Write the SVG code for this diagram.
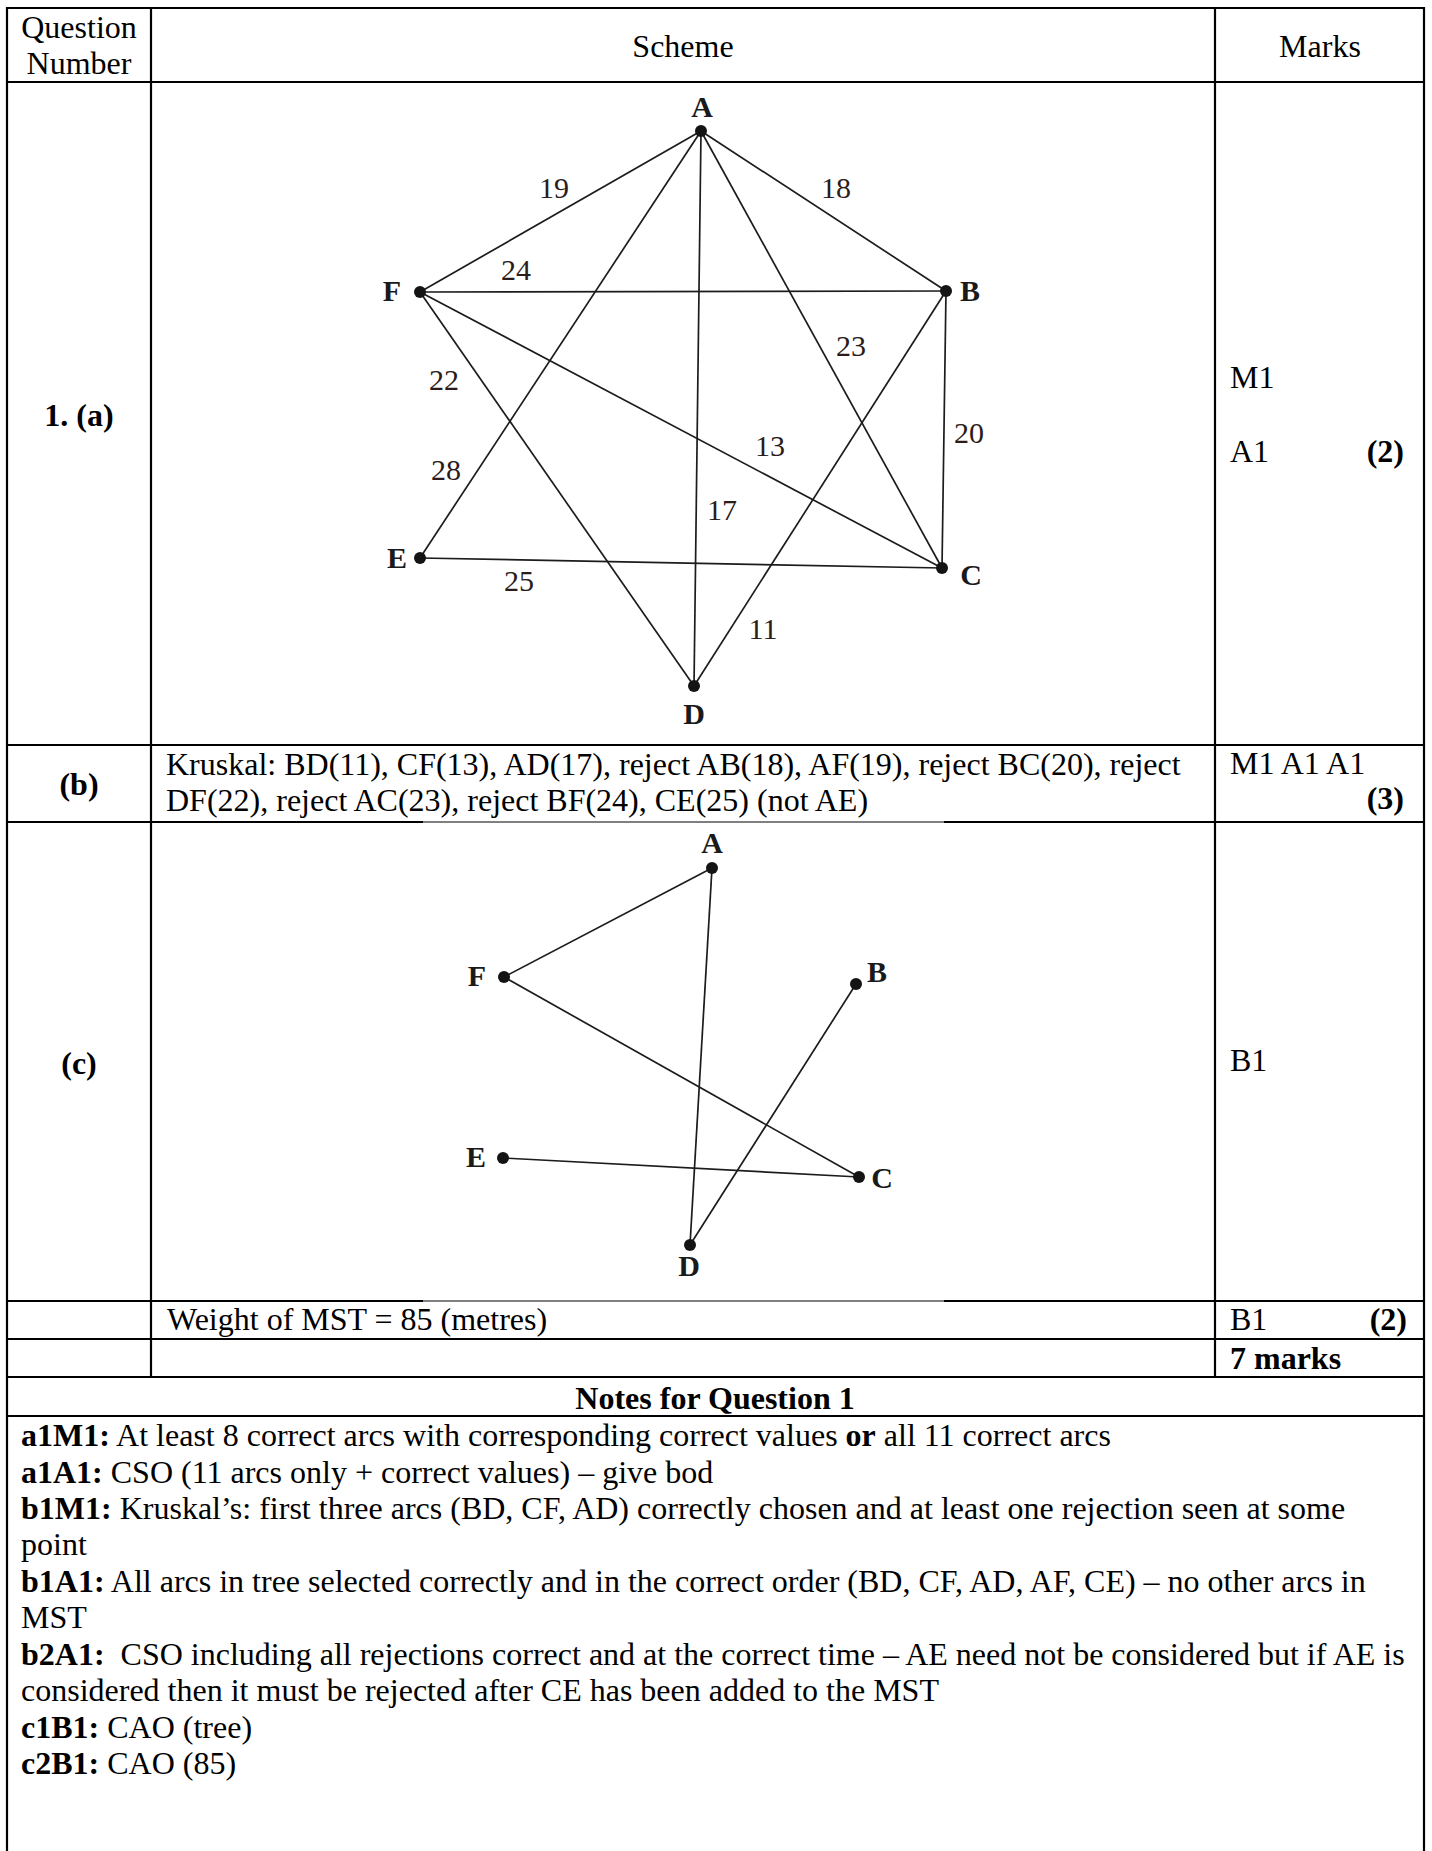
<svg xmlns="http://www.w3.org/2000/svg" width="1432" height="1851" viewBox="0 0 1432 1851">
<style>
text{font-family:"Liberation Serif","Times New Roman",serif;fill:#000}
.t{font-size:32px}
.b{font-weight:bold}
.m{text-anchor:middle}
.e{text-anchor:end}
.grid{stroke:#000;stroke-width:2.2;fill:none}
.thin{stroke:#000;stroke-width:1;fill:none}
.edge{stroke:#1c1c1c;stroke-width:1.7;fill:none}
.dot{fill:#141414}
.nl{font-size:30px;font-weight:bold;text-anchor:middle;fill:#1a1a1a}
.wl{font-size:30px;text-anchor:middle;fill:#2b1c1a}
</style>
<rect width="1432" height="1851" fill="#fff"/>

<g id="table">
<line class="grid" x1="7" y1="8" x2="1424" y2="8"/>
<line class="grid" x1="7" y1="7" x2="7" y2="1851"/>
<line class="grid" x1="1424" y1="7" x2="1424" y2="1851"/>
<line class="grid" x1="151" y1="8" x2="151" y2="1377"/>
<line class="grid" x1="1215" y1="8" x2="1215" y2="1377"/>
<line class="grid" x1="7" y1="82" x2="1424" y2="82"/>
<line class="grid" x1="7" y1="745" x2="1424" y2="745"/>
<line class="grid" x1="7" y1="822" x2="423" y2="822"/>
<line class="thin" x1="423" y1="822" x2="944" y2="822"/>
<line class="grid" x1="944" y1="822" x2="1424" y2="822"/>
<line class="grid" x1="7" y1="1301" x2="423" y2="1301"/>
<line class="thin" x1="423" y1="1301" x2="944" y2="1301"/>
<line class="grid" x1="944" y1="1301" x2="1424" y2="1301"/>
<line class="grid" x1="7" y1="1339" x2="1424" y2="1339"/>
<line class="grid" x1="7" y1="1377" x2="1424" y2="1377"/>
<line class="grid" x1="7" y1="1416" x2="1424" y2="1416"/>
</g>

<g id="header">
<text class="t m" x="79" y="38">Question</text>
<text class="t m" x="79" y="74">Number</text>
<text class="t m" x="683" y="57">Scheme</text>
<text class="t m" x="1320" y="57">Marks</text>
</g>

<g id="row-a">
<text class="t b m" x="79" y="426">1. (a)</text>
<text class="t" x="1230" y="388">M1</text>
<text class="t" x="1230" y="462">A1</text>
<text class="t b e" x="1404" y="462">(2)</text>
</g>

<g id="row-b">
<text class="t b m" x="79" y="795">(b)</text>
<text class="t" x="166" y="775">Kruskal: BD(11), CF(13), AD(17), reject AB(18), AF(19), reject BC(20), reject</text>
<text class="t" x="166" y="811">DF(22), reject AC(23), reject BF(24), CE(25) (not AE)</text>
<text class="t" x="1230" y="774">M1 A1 A1</text>
<text class="t b e" x="1404" y="809">(3)</text>
</g>

<g id="row-c">
<text class="t b m" x="79" y="1074">(c)</text>
<text class="t" x="1230" y="1071">B1</text>
</g>

<g id="row-weight">
<text class="t" x="167" y="1330">Weight of MST = 85 (metres)</text>
<text class="t" x="1230" y="1330">B1</text>
<text class="t b e" x="1407" y="1330">(2)</text>
<text class="t b" x="1230" y="1369">7 marks</text>
</g>

<g id="notes">
<text class="t b m" x="715" y="1409">Notes for Question 1</text>
<text class="t" x="21" y="1446"><tspan class="b">a1M1:</tspan> At least 8 correct arcs with corresponding correct values <tspan class="b">or</tspan> all 11 correct arcs</text>
<text class="t" x="21" y="1483"><tspan class="b">a1A1:</tspan> CSO (11 arcs only + correct values) – give bod</text>
<text class="t" x="21" y="1519"><tspan class="b">b1M1:</tspan> Kruskal’s: first three arcs (BD, CF, AD) correctly chosen and at least one rejection seen at some</text>
<text class="t" x="21" y="1555">point</text>
<text class="t" x="21" y="1592"><tspan class="b">b1A1:</tspan> All arcs in tree selected correctly and in the correct order (BD, CF, AD, AF, CE) – no other arcs in</text>
<text class="t" x="21" y="1628">MST</text>
<text class="t" x="21" y="1665"><tspan class="b">b2A1:</tspan>&#160; CSO including all rejections correct and at the correct time – AE need not be considered but if AE is</text>
<text class="t" x="21" y="1701">considered then it must be rejected after CE has been added to the MST</text>
<text class="t" x="21" y="1738"><tspan class="b">c1B1:</tspan> CAO (tree)</text>
<text class="t" x="21" y="1774"><tspan class="b">c2B1:</tspan> CAO (85)</text>
</g>

<g id="graph-a-connectors">
<line class="edge" x1="701" y1="131" x2="420" y2="292"/>
<line class="edge" x1="701" y1="131" x2="946" y2="291"/>
<line class="edge" x1="701" y1="131" x2="420" y2="558"/>
<line class="edge" x1="701" y1="131" x2="694" y2="686"/>
<line class="edge" x1="701" y1="131" x2="942" y2="568"/>
<line class="edge" x1="420" y1="292" x2="946" y2="291"/>
<line class="edge" x1="420" y1="292" x2="694" y2="686"/>
<line class="edge" x1="420" y1="292" x2="942" y2="568"/>
<line class="edge" x1="946" y1="291" x2="942" y2="568"/>
<line class="edge" x1="946" y1="291" x2="694" y2="686"/>
<line class="edge" x1="420" y1="558" x2="942" y2="568"/>
</g>
<g id="graph-a-weights">
<text class="wl" x="554" y="198">19</text>
<text class="wl" x="836" y="198">18</text>
<text class="wl" x="516" y="280">24</text>
<text class="wl" x="851" y="356">23</text>
<text class="wl" x="444" y="390">22</text>
<text class="wl" x="969" y="443">20</text>
<text class="wl" x="770" y="456">13</text>
<text class="wl" x="446" y="480">28</text>
<text class="wl" x="722" y="520">17</text>
<text class="wl" x="519" y="591">25</text>
<text class="wl" x="763" y="639">11</text>
</g>
<g id="a-node-A"><circle class="dot" cx="701" cy="131" r="6"/><text class="nl" x="702" y="117">A</text></g>
<g id="a-node-B"><circle class="dot" cx="946" cy="291" r="6"/><text class="nl" x="970" y="301">B</text></g>
<g id="a-node-C"><circle class="dot" cx="942" cy="568" r="6"/><text class="nl" x="971" y="585">C</text></g>
<g id="a-node-D"><circle class="dot" cx="694" cy="686" r="6"/><text class="nl" x="694" y="724">D</text></g>
<g id="a-node-E"><circle class="dot" cx="420" cy="558" r="6"/><text class="nl" x="397" y="568">E</text></g>
<g id="a-node-F"><circle class="dot" cx="420" cy="292" r="6"/><text class="nl" x="392" y="301">F</text></g>

<g id="graph-c-connectors">
<line class="edge" x1="712" y1="868" x2="504" y2="977"/>
<line class="edge" x1="712" y1="868" x2="690" y2="1245"/>
<line class="edge" x1="504" y1="977" x2="859" y2="1177"/>
<line class="edge" x1="856" y1="984" x2="690" y2="1245"/>
<line class="edge" x1="503" y1="1158" x2="859" y2="1177"/>
</g>
<g id="c-node-A"><circle class="dot" cx="712" cy="868" r="6"/><text class="nl" x="712" y="853">A</text></g>
<g id="c-node-B"><circle class="dot" cx="856" cy="984" r="6"/><text class="nl" x="877" y="982">B</text></g>
<g id="c-node-C"><circle class="dot" cx="859" cy="1177" r="6"/><text class="nl" x="882" y="1188">C</text></g>
<g id="c-node-D"><circle class="dot" cx="690" cy="1245" r="6"/><text class="nl" x="689" y="1276">D</text></g>
<g id="c-node-E"><circle class="dot" cx="503" cy="1158" r="6"/><text class="nl" x="476" y="1167">E</text></g>
<g id="c-node-F"><circle class="dot" cx="504" cy="977" r="6"/><text class="nl" x="477" y="986">F</text></g>
</svg>
